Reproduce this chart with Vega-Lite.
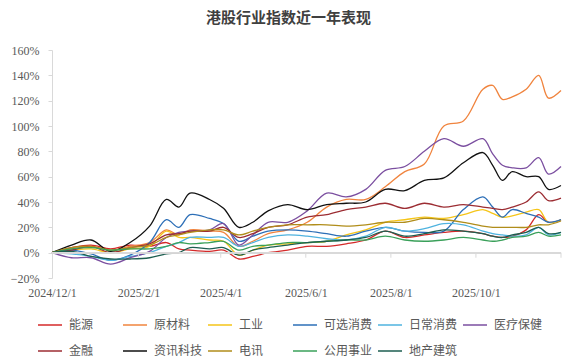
{
  "$schema": "https://vega.github.io/schema/vega-lite/v6.json",
  "autosize": {"type": "none"},
  "width": 509,
  "height": 228,
  "padding": {"left": 52, "top": 50, "right": 15, "bottom": 82},
  "background": "white",
  "config": {
    "view": {"stroke": null},
    "font": "Liberation Serif",
    "axis": {"labelFont": "Liberation Serif", "labelFontSize": 12, "labelColor": "#595959"}
  },
  "title": {
    "text": "港股行业指数近一年表现",
    "font": "Noto Sans CJK SC",
    "fontSize": 15,
    "fontWeight": "bold",
    "color": "#404040",
    "anchor": "middle",
    "dx": -18,
    "offset": 18
  },
  "datasets": {
    "idx": [
      {"d":"2024/12/01","能源":0,"原材料":0,"工业":0,"可选消费":0,"日常消费":0,"医疗保健":0,"金融":0,"资讯科技":0,"电讯":0,"公用事业":0,"地产建筑":0},
      {"d":"2024/12/15","能源":4,"原材料":3,"工业":2,"可选消费":2,"日常消费":-1,"医疗保健":-4,"金融":2,"资讯科技":6,"电讯":4,"公用事业":3,"地产建筑":1},
      {"d":"2024/12/29","能源":6,"原材料":5,"工业":3,"可选消费":-1,"日常消费":-3,"医疗保健":-4,"金融":5,"资讯科技":10,"电讯":5,"公用事业":4,"地产建筑":-3},
      {"d":"2025/01/12","能源":3,"原材料":2,"工业":0,"可选消费":-6,"日常消费":-6,"医疗保健":-9,"金融":0,"资讯科技":1,"电讯":2,"公用事业":2,"地产建筑":-5},
      {"d":"2025/01/26","能源":6,"原材料":5,"工业":3,"可选消费":-2,"日常消费":-3,"医疗保健":-4,"金融":4,"资讯科技":8,"电讯":4,"公用事业":3,"地产建筑":-5},
      {"d":"2025/02/09","能源":5,"原材料":8,"工业":5,"可选消费":8,"日常消费":0,"医疗保健":1,"金融":7,"资讯科技":21,"电讯":6,"公用事业":3,"地产建筑":-4},
      {"d":"2025/02/21","能源":8,"原材料":18,"工业":17,"可选消费":26,"日常消费":5,"医疗保健":12,"金融":14,"资讯科技":42,"电讯":12,"公用事业":5,"地产建筑":-1},
      {"d":"2025/03/02","能源":3,"原材料":14,"工业":12,"可选消费":20,"日常消费":8,"医疗保健":16,"金融":15,"资讯科技":36,"电讯":14,"公用事业":8,"地产建筑":0},
      {"d":"2025/03/10","能源":2,"原材料":18,"工业":12,"可选消费":30,"日常消费":12,"医疗保健":17,"金融":17,"资讯科技":47,"电讯":16,"公用事业":7,"地产建筑":4},
      {"d":"2025/03/24","能源":1,"原材料":17,"工业":10,"可选消费":27,"日常消费":12,"医疗保健":18,"金融":17,"资讯科技":42,"电讯":18,"公用事业":8,"地产建筑":3},
      {"d":"2025/04/03","能源":2,"原材料":16,"工业":9,"可选消费":23,"日常消费":12,"医疗保健":23,"金融":20,"资讯科技":35,"电讯":18,"公用事业":9,"地产建筑":4},
      {"d":"2025/04/14","能源":-5,"原材料":5,"工业":-2,"可选消费":9,"日常消费":5,"医疗保健":6,"金融":12,"资讯科技":20,"电讯":14,"公用事业":2,"地产建筑":-2},
      {"d":"2025/04/24","能源":-3,"原材料":9,"工业":2,"可选消费":13,"日常消费":8,"医疗保健":14,"金融":15,"资讯科技":24,"电讯":17,"公用事业":5,"地产建筑":2},
      {"d":"2025/05/05","能源":0,"原材料":15,"工业":6,"可选消费":17,"日常消费":12,"医疗保健":24,"金融":20,"资讯科技":33,"电讯":20,"公用事业":6,"地产建筑":4},
      {"d":"2025/05/19","能源":2,"原材料":18,"工业":7,"可选消费":18,"日常消费":14,"医疗保健":24,"金融":22,"资讯科技":38,"电讯":22,"公用事业":8,"地产建筑":6},
      {"d":"2025/06/02","能源":5,"原材料":24,"工业":8,"可选消费":17,"日常消费":13,"医疗保健":33,"金融":28,"资讯科技":34,"电讯":22,"公用事业":8,"地产建筑":8},
      {"d":"2025/06/16","能源":5,"原材料":36,"工业":9,"可选消费":15,"日常消费":11,"医疗保健":47,"金融":30,"资讯科技":38,"电讯":22,"公用事业":9,"地产建筑":9},
      {"d":"2025/06/30","能源":7,"原材料":42,"工业":14,"可选消费":13,"日常消费":10,"医疗保健":44,"金融":34,"资讯科技":39,"电讯":21,"公用事业":10,"地产建筑":10},
      {"d":"2025/07/14","能源":10,"原材料":42,"工业":18,"可选消费":17,"日常消费":13,"医疗保健":50,"金融":36,"资讯科技":40,"电讯":22,"公用事业":10,"地产建筑":12},
      {"d":"2025/07/28","能源":17,"原材料":52,"工业":24,"可选消费":20,"日常消费":20,"医疗保健":65,"金融":39,"资讯科技":50,"电讯":24,"公用事业":13,"地产建筑":17},
      {"d":"2025/08/11","能源":12,"原材料":64,"工业":26,"可选消费":17,"日常消费":17,"医疗保健":68,"金融":35,"资讯科技":49,"电讯":24,"公用事业":10,"地产建筑":13},
      {"d":"2025/08/25","能源":14,"原材料":70,"工业":28,"可选消费":16,"日常消费":19,"医疗保健":80,"金融":39,"资讯科技":57,"电讯":27,"公用事业":9,"地产建筑":15},
      {"d":"2025/09/08","能源":16,"原材料":100,"工业":27,"可选消费":17,"日常消费":23,"医疗保健":90,"金融":36,"资讯科技":59,"电讯":26,"公用事业":10,"地产建筑":18},
      {"d":"2025/09/22","能源":17,"原材料":104,"工业":30,"可选消费":34,"日常消费":22,"医疗保健":84,"金融":38,"资讯科技":71,"电讯":24,"公用事业":12,"地产建筑":17},
      {"d":"2025/10/06","能源":15,"原材料":129,"工业":34,"可选消费":44,"日常消费":17,"医疗保健":90,"金融":36,"资讯科技":79,"电讯":21,"公用事业":10,"地产建筑":15},
      {"d":"2025/10/13","能源":13,"原材料":132,"工业":31,"可选消费":36,"日常消费":15,"医疗保健":78,"金融":35,"资讯科技":69,"电讯":20,"公用事业":9,"地产建筑":13},
      {"d":"2025/10/20","能源":12,"原材料":121,"工业":28,"可选消费":28,"日常消费":14,"医疗保健":69,"金融":34,"资讯科技":57,"电讯":20,"公用事业":10,"地产建筑":12},
      {"d":"2025/10/27","能源":13,"原材料":123,"工业":29,"可选消费":34,"日常消费":13,"医疗保健":67,"金融":36,"资讯科技":64,"电讯":20,"公用事业":12,"地产建筑":14},
      {"d":"2025/11/06","能源":18,"原材料":129,"工业":32,"可选消费":31,"日常消费":14,"医疗保健":67,"金融":40,"资讯科技":60,"电讯":20,"公用事业":13,"地产建筑":16},
      {"d":"2025/11/15","能源":30,"原材料":140,"工业":34,"可选消费":28,"日常消费":20,"医疗保健":75,"金融":48,"资讯科技":60,"电讯":22,"公用事业":16,"地产建筑":20},
      {"d":"2025/11/22","能源":24,"原材料":122,"工业":24,"可选消费":24,"日常消费":14,"医疗保健":62,"金融":41,"资讯科技":50,"电讯":22,"公用事业":13,"地产建筑":15},
      {"d":"2025/12/01","能源":26,"原材料":128,"工业":26,"可选消费":26,"日常消费":16,"医疗保健":68,"金融":43,"资讯科技":53,"电讯":25,"公用事业":14,"地产建筑":16}
    ],
    "ticks": [
      {"t":"2025/02/01"},{"t":"2025/04/01"},{"t":"2025/06/01"},{"t":"2025/08/01"},{"t":"2025/10/01"},{"t":"2025/12/01"}
    ]
  },
  "layer": [
    {
      "data": {"name": "idx"},
      "transform": [
        {"fold": ["能源","原材料","工业","可选消费","日常消费","医疗保健","金融","资讯科技","电讯","公用事业","地产建筑"], "as": ["s", "v"]}
      ],
      "mark": {"type": "line", "interpolate": "catmull-rom", "strokeWidth": 1.3},
      "encoding": {
        "x": {
          "field": "d", "type": "temporal",
          "scale": {"domain": [{"year": 2024, "month": 12, "date": 1}, {"year": 2025, "month": 12, "date": 1}]},
          "axis": {
            "title": null,
            "values": [
              {"year": 2024, "month": 12, "date": 1},
              {"year": 2025, "month": 2, "date": 1},
              {"year": 2025, "month": 4, "date": 1},
              {"year": 2025, "month": 6, "date": 1},
              {"year": 2025, "month": 8, "date": 1},
              {"year": 2025, "month": 10, "date": 1}
            ],
            "format": "%Y/%-m/%-d",
            "domain": false,
            "ticks": false,
            "grid": false,
            "labelPadding": 9,
            "labelOverlap": false,
            "labelFlush": false
          }
        },
        "y": {
          "field": "v", "type": "quantitative",
          "scale": {"domain": [-20, 160], "nice": false},
          "axis": {
            "title": null,
            "tickCount": 9,
            "format": "d",
            "labelExpr": "datum.label + '%'",
            "labelOverlap": false,
            "grid": false,
            "domain": true,
            "domainColor": "#d9d9d9",
            "ticks": true,
            "tickColor": "#d9d9d9",
            "tickSize": 4,
            "labelPadding": 9
          }
        },
        "color": {
          "field": "s", "type": "nominal",
          "scale": {
            "domain": ["能源","原材料","工业","可选消费","日常消费","医疗保健","金融","资讯科技","电讯","公用事业","地产建筑"],
            "range": ["#d42a2a","#f0843e","#f5c518","#2d6fb7","#4fb3df","#7b4fa0","#9c2d33","#111111","#b08d1a","#3aa05a","#1d5e50"]
          },
          "legend": {
            "title": null,
            "orient": "none",
            "legendX": -15,
            "legendY": 262,
            "direction": "horizontal",
            "columns": 6,
            "gridAlign": "all",
            "columnPadding": 2,
            "rowPadding": 7,
            "symbolType": "stroke",
            "symbolSize": 576,
            "symbolStrokeWidth": 1.5,
            "labelFont": "Noto Sans CJK SC",
            "labelFontSize": 12,
            "labelColor": "#595959",
            "labelOffset": 6
          }
        }
      }
    },
    {
      "data": {"name": "idx"},
      "mark": {"type": "rule", "color": "#d9d9d9", "strokeWidth": 1},
      "encoding": {"y": {"datum": 0, "type": "quantitative"}}
    },
    {
      "data": {"name": "ticks"},
      "mark": {"type": "rule", "color": "#d9d9d9", "strokeWidth": 1},
      "encoding": {
        "x": {"field": "t", "type": "temporal"},
        "y": {"datum": 0, "type": "quantitative"},
        "y2": {"datum": -4}
      }
    }
  ]
}
